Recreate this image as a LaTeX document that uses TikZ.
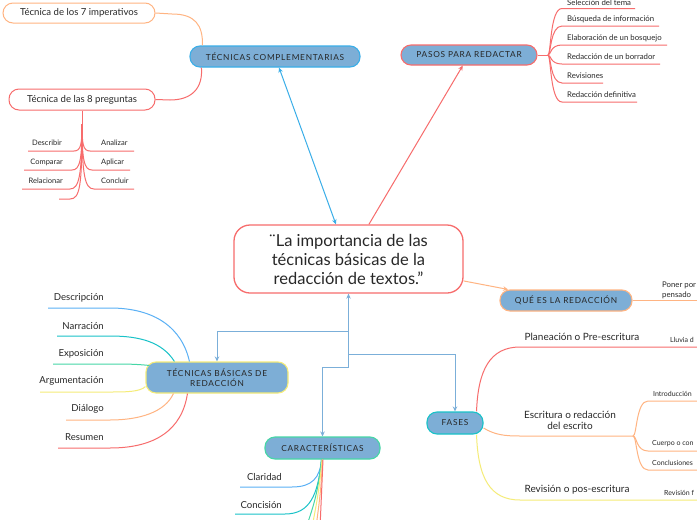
\documentclass[tikz,border=0pt]{standalone}
\usepackage{fontspec}
\setmainfont{Lato}
\newfontfamily\capsfont[LetterSpace=9]{Lato}
\usetikzlibrary{calc,arrows.meta}
\definecolor{nodeblue}{RGB}{125,174,214}
\definecolor{cred}{RGB}{247,108,108}
\definecolor{corange}{RGB}{255,180,130}
\definecolor{cyellow}{RGB}{245,236,120}
\definecolor{cgreen}{RGB}{70,214,166}
\definecolor{cteal}{RGB}{25,194,200}
\definecolor{cblue}{RGB}{90,176,245}
\definecolor{cbright}{RGB}{58,174,232}
\definecolor{cconn}{RGB}{123,175,217}
\definecolor{ctext}{RGB}{40,40,40}
\begin{document}
\begin{tikzpicture}[x=1pt,y=-1pt,
  topic/.style={draw, line width=1.1pt, fill=nodeblue, rounded corners=10pt, inner sep=0pt, text=black!85, font=\capsfont\fontsize{8.3}{10.5}\selectfont, align=center},
  subbox/.style={draw, line width=1pt, fill=white, rounded corners=10pt, inner sep=0pt, text=ctext, font=\fontsize{9.6}{11}\selectfont},
  central/.style={draw=cred, line width=1.3pt, fill=white, rounded corners=16pt, inner sep=0pt, text=ctext, align=center, font=\fontsize{16.5}{19}\selectfont, minimum width=229pt, minimum height=68pt},
  leaf/.style={inner sep=0pt, text=ctext, font=\fontsize{9.6}{11}\selectfont},
  smallleaf/.style={inner sep=0pt, text=ctext, font=\fontsize{7.5}{9}\selectfont},
  tiny/.style={inner sep=0pt, text=ctext, font=\fontsize{7.8}{9.5}\selectfont},
  edge/.style={inner sep=0pt, text=ctext, font=\fontsize{7}{9}\selectfont},
  br/.style={line width=1pt},
  tip/.style={-{Stealth[length=5pt,width=4.5pt]}},
]
\useasboundingbox (0,0) rectangle (697,520);
\fill[white] (0,0) rectangle (697,520);
\clip (0,0) rectangle (697,520);

% main nodes
\node[central] (c) at (348.5,259) {¨La importancia de las\\técnicas básicas de la\\ redacción de textos.”};
\node[topic, draw=cbright, minimum width=170pt, minimum height=21pt] (tc) at (275,56.5) {TÉCNICAS COMPLEMENTARIAS};
\node[topic, draw=cred, minimum width=136pt, minimum height=20pt] (pp) at (469,55) {PASOS PARA REDACTAR};
\node[topic, draw=corange, minimum width=132pt, minimum height=21pt] (qr) at (566,300.5) {QUÉ ES LA REDACCIÓN};
\node[topic, draw=cyellow, minimum width=142pt, minimum height=31pt] (tb) at (217,377.5) {TÉCNICAS BÁSICAS DE\\REDACCIÓN};
\node[topic, draw=cgreen, minimum width=115pt, minimum height=22pt] (ca) at (322.5,448) {CARACTERÍSTICAS};
\node[topic, draw=cteal, minimum width=56pt, minimum height=22pt] (fa) at (455,423) {FASES};

\node[subbox, draw=corange, minimum width=152pt, minimum height=20pt] (t7) at (79,13) {Técnica de los 7 imperativos};
\node[subbox, draw=cred, minimum width=146pt, minimum height=21pt] (t8) at (82,99.5) {Técnica de las 8 preguntas};

% central connectors
\draw[cbright, line width=1pt, {Stealth[length=5pt,width=4.5pt]}-{Stealth[length=5pt,width=4.5pt]}] (c) -- (tc);
\draw[cred, line width=1pt, tip] (c) -- (pp);
\draw[corange, line width=1pt, tip] (c) -- (qr);

\coordinate (j1) at (348.5,331);
\coordinate (j2) at (348.5,354);
\coordinate (j3) at (348.5,367);
\draw[cconn, line width=1pt, tip] (j3) -- (c.south);
\draw[cconn, line width=1pt, tip] (j1) -| (tb.north);
\draw[cconn, line width=1pt, tip] (j2) -| (fa.north);
\draw[cconn, line width=1pt, tip] (j3) -| (ca.north);

% tecnicas complementarias branches
\draw[corange, br] ($(tc.north west)+(13,0)$) .. controls (203,25) and (195,14) .. (172,14) -- (t7.east);
\draw[cred, br] ($(tc.south west)+(12,0)$) .. controls (203,88) and (192,100) .. (170,100) -- (t8.east);

% 8 preguntas
\coordinate (t8a) at (82,124);
\draw[cred, br] (t8.south) -- (t8a);
\node[smallleaf, anchor=east] (l1) at (62,143) {Describir};
\node[smallleaf, anchor=east] (l2) at (63,162) {Comparar};
\node[smallleaf, anchor=east] (l3) at (63,181) {Relacionar};
\node[smallleaf, anchor=west] (r1) at (101,143) {Analizar};
\node[smallleaf, anchor=west] (r2) at (101,162) {Aplicar};
\node[smallleaf, anchor=west] (r3) at (101,181) {Concluir};
\coordinate (l1e) at (28,151);
\coordinate (l2e) at (24,170);
\coordinate (l3e) at (22,189);
\coordinate (l4e) at (59,199);
\coordinate (r1e) at (134,151);
\coordinate (r2e) at (130,170);
\coordinate (r3e) at (134,189);
\draw[cred, br] (t8a) .. controls (82,144) and (81,151) .. (74,151) -- (l1e);
\draw[cred, br] (t8a) .. controls (82,160) and (80,170) .. (72,170) -- (l2e);
\draw[cred, br] (t8a) .. controls (82,176) and (79,189) .. (70,189) -- (l3e);
\draw[cred, br] (t8a) .. controls (82,186) and (80,199) .. (70,199) -- (l4e);
\draw[cred, br] (t8a) .. controls (82,144) and (83,151) .. (90,151) -- (r1e);
\draw[cred, br] (t8a) .. controls (82,160) and (84,170) .. (92,170) -- (r2e);
\draw[cred, br] (t8a) .. controls (82,176) and (85,189) .. (94,189) -- (r3e);

% pasos para redactar
\coordinate (pa) at (548,55);
\draw[cred, br] (pp.east) -- (pa);
\foreach \t/\ty/\uy/\ex [count=\i] in {Selección del tema/2.5/8.5/635, Búsqueda de información/19.5/26/659, Elaboración de un bosquejo/38/45/667, Redacción de un borrador/57/64/660, Revisiones/76/83/603, Redacción definitiva/95/102/637}{
  \node[tiny, anchor=west] (p\i) at (567,\ty) {\t};
  \coordinate (pe\i) at (\ex,\uy);
  \draw[cred, br] (pa) .. controls (551,55) and (550,\uy) .. (562,\uy) -- (pe\i);
}

% que es la redaccion
\coordinate (qe) at (697,300.5);
\draw[corange, br] (qr.east) -- (qe);
\node[tiny, anchor=west, align=left, font=\fontsize{7.8}{10}\selectfont] (q1) at (662,290) {Poner por\\pensado};

% tecnicas basicas
\node[leaf, anchor=east] (b1) at (104,298) {Descripción};
\node[leaf, anchor=east] (b2) at (104,326) {Narración};
\node[leaf, anchor=east] (b3) at (104,354) {Exposición};
\node[leaf, anchor=east] (b4) at (104,381) {Argumentación};
\node[leaf, anchor=east] (b5) at (104,409) {Diálogo};
\node[leaf, anchor=east] (b6) at (104,437) {Resumen};
\coordinate (b1e) at (48,308);
\coordinate (b2e) at (57,336);
\coordinate (b3e) at (53,364);
\coordinate (b4e) at (40,392);
\coordinate (b5e) at (66,420);
\coordinate (b6e) at (58,448);
\draw[cblue, br] ($(tb.north west)+(44,0)$) .. controls (182,328) and (155,308) .. (110,308) -- (b1e);
\draw[cteal, br] ($(tb.north west)+(29,0)$) .. controls (162,342) and (140,336) .. (110,336) -- (b2e);
\draw[cgreen, br] ($(tb.north west)+(4,4)$) .. controls (135,364) and (125,364) .. (110,364) -- (b3e);
\draw[cyellow, br] ($(tb.south west)+(0,-7)$) .. controls (140,392) and (125,392) .. (110,392) -- (b4e);
\draw[corange, br] ($(tb.south west)+(28,0)$) .. controls (165,412) and (140,420) .. (110,420) -- (b5e);
\draw[cred, br] ($(tb.south west)+(42,0)$) .. controls (182,430) and (155,448) .. (110,448) -- (b6e);

% caracteristicas
\node[leaf, anchor=east] (k1) at (282,477) {Claridad};
\node[leaf, anchor=east] (k2) at (282,505) {Concisión};
\coordinate (k1e) at (240,487);
\coordinate (k2e) at (235,514);
\coordinate (k3e) at (306,528);
\coordinate (k4e) at (312,528);
\coordinate (k5e) at (316,528);
\coordinate (k6e) at (320,528);
\draw[cblue, br] ($(ca.south)+(-1,0)$) .. controls (320,478) and (312,487) .. (292,487) -- (k1e);
\draw[cteal, br] ($(ca.south)+(-1,0)$) .. controls (318,495) and (310,514) .. (285,514) -- (k2e);
\draw[cgreen, br] ($(ca.south)+(-1,0)$) .. controls (318,495) and (312,510) .. (k3e);
\draw[cyellow, br] ($(ca.south)+(-0.5,0)$) .. controls (319,495) and (315,510) .. (k4e);
\draw[corange, br] (ca.south) .. controls (321,495) and (318,510) .. (k5e);
\draw[cred, br] ($(ca.south)+(0.5,0)$) -- (k6e);

% fases
\node[leaf, font=\fontsize{10}{12}\selectfont] (f1) at (582,337) {Planeación o Pre-escritura};
\node[leaf, align=center, font=\fontsize{10}{11.5}\selectfont] (f2) at (570,420.5) {Escritura o redacción\\del escrito};
\node[leaf, font=\fontsize{10}{12}\selectfont] (f3) at (577,490) {Revisión o pos-escritura};
\coordinate (f1e) at (697,347);
\coordinate (f2e) at (633,436);
\coordinate (f3e) at (697,500);
\draw[cred, br] ($(fa.north east)+(-7,0)$) .. controls (478,370) and (490,347) .. (520,347) -- (f1e);
\draw[corange, br] ($(fa.east)+(0,5)$) .. controls (495,435) and (505,436) .. (520,436) -- (f2e);
\draw[cyellow, br] ($(fa.south east)+(-7,0)$) .. controls (478,478) and (490,500) .. (520,500) -- (f3e);

\node[edge, anchor=west] (g1) at (670,340) {Lluvia d};
\node[edge, anchor=west] (g2) at (664,493) {Revisión f};
\node[edge, anchor=west] (h1) at (653,394) {Introducción};
\node[edge, anchor=west] (h2) at (652,444) {Cuerpo o con};
\node[edge, anchor=west] (h3) at (652,463) {Conclusiones};
\coordinate (h1e) at (697,401);
\coordinate (h2e) at (697,451);
\coordinate (h3e) at (697,470);
\draw[corange, br] (f2e) .. controls (637,436) and (636,401) .. (648,401) -- (h1e);
\draw[corange, br] (f2e) .. controls (637,436) and (636,451) .. (648,451) -- (h2e);
\draw[corange, br] (f2e) .. controls (637,436) and (636,470) .. (648,470) -- (h3e);
\end{tikzpicture}
\end{document}
